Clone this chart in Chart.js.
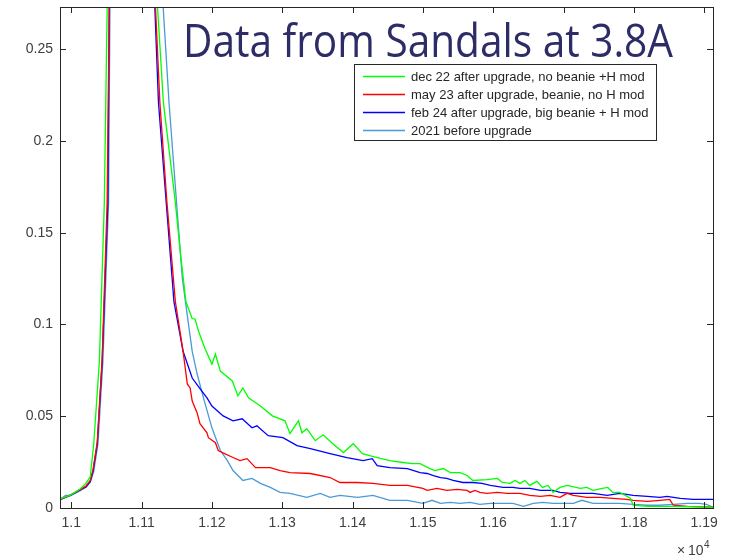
<!DOCTYPE html>
<html>
<head>
<meta charset="utf-8">
<script src="https://cdn.jsdelivr.net/npm/chart.js@4.4.1/dist/chart.umd.min.js"></script>
<style>
  html, body { margin: 0; padding: 0; background: #fff; }
  #chart { display: block; }
</style>
</head>
<body>
<canvas id="chart" width="741" height="555"></canvas>
<script>
// [frequency, amplitude]; x in raw units (axis shows x/1e4)
const dec22 = [[10984,0.0050],[10999,0.0070],[11013,0.0105],[11021,0.0135],[11027,0.0170],[11032,0.035],[11040,0.080],[11047,0.166],[11051,0.271],[11054,0.35],[11085,1.0],[11115,0.33],[11123,0.271],[11131,0.221],[11148,0.1667],[11155,0.1396],[11163,0.1125],[11172,0.1032],[11176,0.1030],[11181,0.0963],[11190,0.0871],[11200,0.0784],[11205,0.0838],[11212,0.0746],[11229,0.0692],[11237,0.0611],[11244,0.0654],[11252,0.0600],[11269,0.0556],[11286,0.0502],[11304,0.0475],[11311,0.0405],[11323,0.0475],[11328,0.0410],[11335,0.0432],[11347,0.0367],[11358,0.0399],[11372,0.0350],[11387,0.0302],[11401,0.0350],[11414,0.0296],[11435,0.0275],[11453,0.0258],[11472,0.0248],[11485,0.0242],[11496,0.0242],[11510,0.0215],[11517,0.0204],[11529,0.0215],[11539,0.0193],[11553,0.0193],[11563,0.0177],[11571,0.0150],[11591,0.0155],[11606,0.0161],[11613,0.0139],[11624,0.0134],[11631,0.0150],[11638,0.0134],[11645,0.0150],[11652,0.0123],[11662,0.0145],[11670,0.0112],[11678,0.0123],[11685,0.0085],[11695,0.0112],[11705,0.0123],[11724,0.0107],[11733,0.0112],[11742,0.0096],[11755,0.0107],[11763,0.0112],[11770,0.0085],[11780,0.0085],[11795,0.0053],[11799,0.0015],[11819,0.0009],[11856,0.0009],[11913,0.0004]];

const may23 = [[10984,0.0045],[10999,0.0072],[11013,0.0100],[11021,0.0120],[11027,0.0150],[11031,0.021],[11037,0.036],[11044,0.082],[11051,0.166],[11054,0.271],[11056,0.35],[11085,1.0],[11114,0.33],[11120,0.271],[11126,0.221],[11136,0.1667],[11148,0.1125],[11159,0.0854],[11165,0.0676],[11169,0.0654],[11172,0.0583],[11179,0.0518],[11183,0.0459],[11193,0.0410],[11195,0.0383],[11205,0.0356],[11209,0.0313],[11215,0.0302],[11230,0.0275],[11240,0.0258],[11250,0.0269],[11262,0.0220],[11283,0.0220],[11297,0.0204],[11311,0.0193],[11340,0.0188],[11368,0.0166],[11382,0.0139],[11407,0.0139],[11429,0.0134],[11453,0.0123],[11478,0.0123],[11500,0.0107],[11506,0.0096],[11520,0.0107],[11534,0.0096],[11549,0.0101],[11563,0.0096],[11567,0.0085],[11574,0.0096],[11581,0.0085],[11591,0.0080],[11606,0.0085],[11620,0.0080],[11638,0.0080],[11652,0.0069],[11667,0.0063],[11681,0.0069],[11695,0.0058],[11705,0.0080],[11714,0.0069],[11733,0.0058],[11752,0.0058],[11770,0.0053],[11790,0.0047],[11799,0.0042],[11819,0.0036],[11837,0.0042],[11851,0.0047],[11856,0.0015],[11876,0.0009],[11913,0.0004]];

const feb24 = [[10984,0.0045],[10999,0.0068],[11013,0.0100],[11021,0.0115],[11027,0.0145],[11031,0.020],[11037,0.035],[11044,0.080],[11052,0.166],[11054,0.271],[11056,0.35],[11085,1.0],[11113,0.33],[11119,0.271],[11124,0.221],[11135,0.1667],[11146,0.1125],[11159,0.0854],[11172,0.0708],[11183,0.0650],[11193,0.0600],[11200,0.0556],[11216,0.0502],[11230,0.0475],[11243,0.0486],[11257,0.0437],[11264,0.0448],[11280,0.0394],[11301,0.0383],[11321,0.0340],[11340,0.0323],[11368,0.0296],[11392,0.0275],[11415,0.0258],[11428,0.0269],[11435,0.0231],[11453,0.0220],[11478,0.0215],[11496,0.0193],[11506,0.0188],[11515,0.0177],[11525,0.0166],[11534,0.0161],[11543,0.0150],[11557,0.0139],[11571,0.0139],[11584,0.0134],[11596,0.0123],[11614,0.0112],[11628,0.0112],[11638,0.0107],[11652,0.0107],[11667,0.0096],[11685,0.0096],[11695,0.0085],[11710,0.0080],[11724,0.0080],[11742,0.0080],[11762,0.0069],[11780,0.0080],[11799,0.0069],[11819,0.0063],[11837,0.0058],[11847,0.0063],[11866,0.0053],[11884,0.0047],[11903,0.0047],[11913,0.0047]];

const before2021 = [[10984,0.0048],[10992,0.0068],[10999,0.0068],[11013,0.0095],[11021,0.0115],[11027,0.0140],[11032,0.020],[11038,0.035],[11045,0.080],[11053,0.166],[11055,0.271],[11057,0.35],[11085,1.0],[11122,0.33],[11131,0.271],[11139,0.221],[11150,0.165],[11158,0.125],[11165,0.105],[11172,0.0854],[11179,0.073],[11188,0.060],[11200,0.0437],[11212,0.0313],[11222,0.0258],[11230,0.0204],[11244,0.0150],[11257,0.0161],[11269,0.0134],[11283,0.0112],[11297,0.0085],[11311,0.0080],[11335,0.0058],[11354,0.0080],[11368,0.0058],[11382,0.0069],[11407,0.0058],[11429,0.0069],[11453,0.0042],[11478,0.0042],[11500,0.0025],[11513,0.0042],[11525,0.0025],[11539,0.0031],[11553,0.0025],[11567,0.0031],[11581,0.0020],[11596,0.0025],[11610,0.0025],[11628,0.0025],[11643,0.0009],[11657,0.0025],[11671,0.0031],[11685,0.0025],[11699,0.0025],[11714,0.0025],[11726,0.0042],[11742,0.0025],[11762,0.0025],[11780,0.0025],[11799,0.0020],[11819,0.0015],[11837,0.0015],[11856,0.0020],[11876,0.0025],[11893,0.0025],[11903,0.0020],[11913,0.0004]];

const seriesLabels = [
  'dec 22 after upgrade, no beanie +H mod',
  'may 23 after upgrade, beanie, no H mod',
  'feb 24 after upgrade, big beanie + H mod',
  '2021 before upgrade'
];
const seriesColors = ['#00ff00', '#ff0000', '#0000ff', '#4a9ad8'];
const titleText = 'Data from Sandals at 3.8A';

const AXIS_COLOR = '#262626';

const toPoints = arr => arr.map(p => ({ x: p[0], y: p[1] }));

// matlab style box with inward ticks on all four sides, exponent label
const boxPlugin = {
  id: 'matlabBox',
  afterDatasetsDraw(chart) {
    const { ctx, chartArea: a, scales } = chart;
    ctx.save();
    ctx.strokeStyle = AXIS_COLOR;
    ctx.lineWidth = 1;
    ctx.strokeRect(Math.round(a.left) + 0.5, Math.round(a.top) + 0.5,
      Math.round(a.right - a.left), Math.round(a.bottom - a.top));
    ctx.beginPath();
    scales.x.ticks.forEach(t => {
      const px = Math.round(scales.x.getPixelForValue(t.value)) + 0.5;
      ctx.moveTo(px, a.bottom); ctx.lineTo(px, a.bottom - 6);
      ctx.moveTo(px, a.top); ctx.lineTo(px, a.top + 6);
    });
    scales.y.ticks.forEach(t => {
      const py = Math.round(scales.y.getPixelForValue(t.value)) + 0.5;
      ctx.moveTo(a.left, py); ctx.lineTo(a.left + 6, py);
      ctx.moveTo(a.right, py); ctx.lineTo(a.right - 6, py);
    });
    ctx.stroke();

    // x10^4
    ctx.fillStyle = '#404040';
    ctx.textBaseline = 'alphabetic';
    ctx.textAlign = 'left';
    ctx.font = '14px "Liberation Sans", Arial, sans-serif';
    ctx.fillText('\u00d7', 677, 555);
    ctx.fillText('10', 688, 555);
    ctx.font = '10px "Liberation Sans", Arial, sans-serif';
    ctx.fillText('4', 704, 548);
    ctx.restore();
  }
};

const legendPlugin = {
  id: 'boxLegend',
  afterDraw(chart) {
    const { ctx } = chart;
    const x0 = 354, y0 = 64, w = 302, h = 76;
    ctx.save();
    ctx.fillStyle = '#fff';
    ctx.fillRect(x0, y0, w, h);
    ctx.strokeStyle = AXIS_COLOR;
    ctx.lineWidth = 1;
    ctx.strokeRect(x0 + 0.5, y0 + 0.5, w, h);
    ctx.font = '13px "Liberation Sans", Arial, sans-serif';
    ctx.textBaseline = 'middle';
    ctx.textAlign = 'left';
    chart.data.datasets.forEach((ds, i) => {
      const yy = y0 + 12.5 + i * 18;
      ctx.strokeStyle = ds.borderColor;
      ctx.lineWidth = 1.3;
      ctx.beginPath();
      ctx.moveTo(363, yy); ctx.lineTo(405, yy);
      ctx.stroke();
      ctx.fillStyle = '#262626';
      ctx.fillText(ds.label, 411, yy + 0.5);
    });
    ctx.restore();
  }
};

const titlePlugin = {
  id: 'slideTitle',
  afterDraw(chart) {
    const { ctx } = chart;
    ctx.save();
    ctx.font = '46px "Open Sans", "Noto Sans", sans-serif';
    const w = ctx.measureText(titleText).width;
    const sx = 490 / w;
    ctx.translate(183, 57);
    ctx.scale(sx, 1);
    ctx.fillStyle = '#2d2c66';
    ctx.textBaseline = 'alphabetic';
    ctx.textAlign = 'left';
    ctx.fillText(titleText, 0, 0);
    ctx.restore();
  }
};

const series = [dec22, may23, feb24, before2021];

new Chart(document.getElementById('chart'), {
  type: 'line',
  data: {
    datasets: series.map((s, i) => ({
      label: seriesLabels[i],
      data: toPoints(s),
      borderColor: seriesColors[i],
      borderWidth: 1.3,
      pointRadius: 0,
      tension: 0,
      fill: false
    }))
  },
  options: {
    responsive: false,
    animation: false,
    devicePixelRatio: 1,
    layout: { padding: { left: 0, top: 7, right: 28, bottom: 0 } },
    plugins: {
      legend: { display: false },
      tooltip: { enabled: false },
      title: { display: false }
    },
    scales: {
      x: {
        type: 'linear',
        min: 10984,
        max: 11912.5,
        grid: { display: false, drawTicks: false },
        border: { display: false },
        ticks: {
          stepSize: 100,
          includeBounds: false,
          autoSkip: false,
          maxRotation: 0,
          padding: 7,
          color: '#404040',
          font: { family: '"Liberation Sans", Arial, sans-serif', size: 14 },
          callback: v => String(+(v / 10000).toFixed(4))
        },
        afterFit: s => { s.height = 47; s.paddingLeft = 0; s.paddingRight = 0; }
      },
      y: {
        min: 0,
        max: 0.273,
        grid: { display: false, drawTicks: false },
        border: { display: false },
        ticks: {
          stepSize: 0.05,
          includeBounds: false,
          padding: 7,
          color: '#404040',
          font: { family: '"Liberation Sans", Arial, sans-serif', size: 14 },
          callback: v => String(+v.toFixed(4))
        },
        afterFit: s => { s.width = 60; s.paddingTop = 0; s.paddingBottom = 0; }
      }
    }
  },
  plugins: [boxPlugin, legendPlugin, titlePlugin]
});
</script>
</body>
</html>
